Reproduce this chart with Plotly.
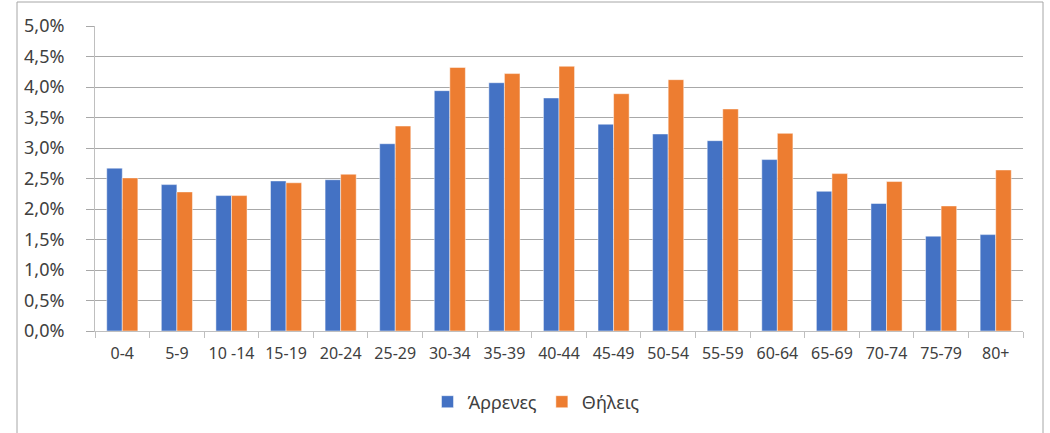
import plotly.graph_objects as go

age_groups = ["0-4", "5-9", "10 -14", "15-19", "20-24", "25-29", "30-34", "35-39",
              "40-44", "45-49", "50-54", "55-59", "60-64", "65-69", "70-74", "75-79", "80+"]
males = [2.67, 2.40, 2.22, 2.46, 2.48, 3.07, 3.94, 4.07, 3.82, 3.39, 3.23, 3.12,
         2.81, 2.29, 2.09, 1.555, 1.58]
females = [2.51, 2.28, 2.22, 2.43, 2.57, 3.36, 4.32, 4.22, 4.34, 3.89, 4.12, 3.64,
           3.24, 2.58, 2.45, 2.05, 2.64]

BLUE = "#4472C4"
ORANGE = "#ED7D31"
FONT = "Noto Sans"
TEXT = "#404040"

fig = go.Figure()
fig.add_trace(go.Bar(
    x=age_groups, y=[v / 100 for v in males], name="Άρρενες",
    marker=dict(color=BLUE, line=dict(color="rgba(255,255,255,0.6)", width=0.8)),
))
fig.add_trace(go.Bar(
    x=age_groups, y=[v / 100 for v in females], name="Θήλεις",
    marker=dict(color=ORANGE, line=dict(color="rgba(255,255,255,0.6)", width=0.8)),
))

W, H = 1050, 433
L, R, T, B = 95, 27, 26, 102
pw, ph = W - L - R, H - T - B

fig.update_layout(
    width=W, height=H,
    margin=dict(l=L, r=R, t=T, b=B, pad=0),
    paper_bgcolor="white", plot_bgcolor="white",
    barmode="group", bargap=0.43, bargroupgap=0,
    separators=",.",
    font=dict(family=FONT, size=17, color=TEXT),
    showlegend=True,
    legend=dict(orientation="h", x=(536 - L) / pw, xanchor="center",
                y=-(402 - (H - B)) / ph, yanchor="middle",
                font=dict(size=18, color=TEXT), itemwidth=30,
                traceorder="normal"),
    xaxis=dict(
        showgrid=False, showline=True, linecolor="#BFBFBF", linewidth=1,
        ticks="outside", tickson="boundaries", ticklen=6, tickcolor="#BFBFBF",
        tickfont=dict(size=16, color=TEXT), ticklabelstandoff=8, tickangle=0,
    ),
    yaxis=dict(
        range=[0, 0.05], dtick=0.005, tickformat=".1%",
        showgrid=True, gridcolor="#A8A8A8", gridwidth=1,
        showline=True, linecolor="#BFBFBF", linewidth=1,
        ticks="outside", ticklen=8, tickcolor="#A8A8A8",
        tickfont=dict(size=18, color=TEXT), ticklabelstandoff=18,
        zeroline=False,
    ),
    shapes=[dict(
        type="rect", xref="paper", yref="paper",
        x0=(17 - L) / pw, x1=(1043 - L) / pw,
        y0=-(H + 5 - (H - B)) / ph, y1=(H - B - 2) / ph,
        line=dict(color="#A6A6A6", width=1), fillcolor="rgba(0,0,0,0)", layer="below",
    )],
)

fig.write_html("out.html")
